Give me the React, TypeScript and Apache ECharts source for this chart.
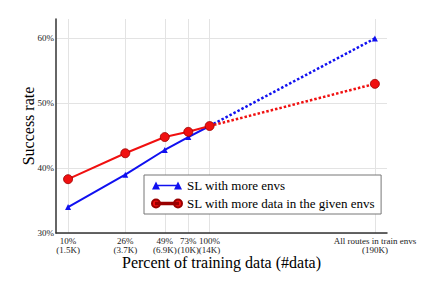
import React, { useEffect, useRef } from "react";
import * as echarts from "echarts";

const xValues = [1.5, 3.7, 6.9, 10, 14, 190];
const xTickLabels = [
  "10%\n(1.5K)",
  "26%\n(3.7K)",
  "49%\n(6.9K)",
  "73%\n(10K)",
  "100%\n(14K)",
  "All routes in train envs\n(190K)",
];
const yTicks = [30, 40, 50, 60];
const envSolid = [34, 39, 42.8, 44.8, 46.5];
const envExtended = [46.5, 60];
const dataSolid = [38.3, 42.3, 44.8, 45.6, 46.5];
const dataExtended = [46.5, 53];
const seriesNames = ["SL with more envs", "SL with more data in the given envs"];

const FONT = "'Liberation Serif', 'DejaVu Serif', serif";
const BLUE = "#1010f0";
const RED = "#f01010";

const triIcon =
  "path://M0,10 L4,2 L8,10 Z M4,5.2 L26,5.2 L26,6.8 L4,6.8 Z M22,10 L26,2 L30,10 Z";
const circIcon =
  "path://M0,6 A4,4 0 1,0 8,6 A4,4 0 1,0 0,6 Z M4,5.2 L26,5.2 L26,6.8 L4,6.8 Z M22,6 A4,4 0 1,0 30,6 A4,4 0 1,0 22,6 Z";

function nearestLabel(v: number): string {
  let best = 0;
  let bd = Infinity;
  xValues.forEach((x, i) => {
    const d = Math.abs(Math.log(x) - Math.log(v));
    if (d < bd) {
      bd = d;
      best = i;
    }
  });
  return xTickLabels[best];
}

export default function App() {
  const ref = useRef<HTMLDivElement>(null);
  useEffect(() => {
    document.body.style.margin = "0";
    const chart = echarts.init(ref.current!, null, { renderer: "svg" });
    const solid = (vals: number[]) => xValues.slice(0, 5).map((x, i) => [x, vals[i]]);
    const ext = (vals: number[]) => [
      { value: [xValues[4], vals[0]], symbol: "none" },
      { value: [xValues[5], vals[1]] },
    ];
    chart.setOption({
      animation: false,
      grid: { left: 56, top: 19, right: 49, bottom: 58 },
      xAxis: {
        type: "log",
        logBase: 10,
        min: 1.24,
        max: 230,
        name: "Percent of training data (#data)",
        nameLocation: "middle",
        nameGap: 21,
        nameMoveOverlap: false,
        nameTextStyle: { fontFamily: FONT, fontSize: 16, color: "#000", lineHeight: 16 },
        axisLine: { show: true, lineStyle: { color: "#333", width: 1.5 } },
        axisTick: { show: false, customValues: xValues },
        axisLabel: {
          customValues: xValues,
          formatter: (v: number) => nearestLabel(v),
          fontFamily: FONT,
          fontSize: 9,
          lineHeight: 9,
          color: "#222",
          margin: 3,
        },
        splitLine: { show: true, lineStyle: { color: "#e3e3e3", width: 1 } },
      },
      yAxis: {
        type: "value",
        min: 30,
        max: 63,
        interval: 10,
        name: "Success rate",
        nameLocation: "middle",
        nameGap: 20,
        nameMoveOverlap: false,
        nameTextStyle: { fontFamily: FONT, fontSize: 16, color: "#000" },
        axisLine: { show: true, lineStyle: { color: "#333", width: 1.5 } },
        axisTick: { show: false, customValues: yTicks },
        axisLabel: {
          customValues: yTicks,
          formatter: (v: number) => `${v}%`,
          fontFamily: FONT,
          fontSize: 9,
          color: "#222",
          margin: 2,
        },
        splitLine: { show: true, lineStyle: { color: "#e3e3e3", width: 1 } },
      },
      legend: {
        data: [
          { name: seriesNames[0], icon: triIcon },
          { name: seriesNames[1], icon: circIcon },
        ],
        orient: "vertical",
        left: 144,
        top: 175,
        itemWidth: 30,
        itemHeight: 10,
        itemGap: 5,
        padding: [4, 6, 4, 7],
        backgroundColor: "#fff",
        borderColor: "#777",
        borderWidth: 1,
        borderRadius: 0,
        textStyle: { fontFamily: FONT, fontSize: 13, color: "#000" },
      },
      series: [
        {
          name: seriesNames[0],
          type: "line",
          data: solid(envSolid),
          symbol: "triangle",
          symbolSize: 6,
          itemStyle: { color: BLUE },
          lineStyle: { color: BLUE, width: 2 },
          z: 3,
        },
        {
          name: "ext0",
          type: "line",
          data: ext(envExtended),
          symbol: "triangle",
          symbolSize: 6,
          itemStyle: { color: BLUE },
          lineStyle: { color: BLUE, width: 2.5, type: [2.5, 2] },
          z: 3,
        },
        {
          name: seriesNames[1],
          type: "line",
          data: solid(dataSolid),
          symbol: "circle",
          symbolSize: 9,
          itemStyle: { color: RED, borderColor: "#900", borderWidth: 0.8 },
          lineStyle: { color: RED, width: 2 },
          z: 4,
        },
        {
          name: "ext1",
          type: "line",
          data: ext(dataExtended),
          symbol: "circle",
          symbolSize: 9,
          itemStyle: { color: RED, borderColor: "#900", borderWidth: 0.8 },
          lineStyle: { color: RED, width: 2.5, type: [2.5, 2] },
          z: 4,
        },
      ],
    });
    return () => chart.dispose();
  }, []);
  return (
    <div
      ref={ref}
      style={{ position: "absolute", left: 0, top: 0, width: 436, height: 291 }}
    />
  );
}
